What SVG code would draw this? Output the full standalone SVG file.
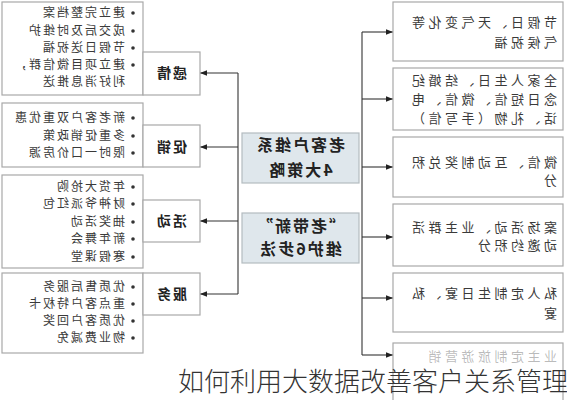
<svg xmlns="http://www.w3.org/2000/svg" width="567" height="400" viewBox="0 0 567 400">
<defs>
<marker id="ah" viewBox="0 0 10 10" refX="10" refY="5" markerWidth="7" markerHeight="7" markerUnits="userSpaceOnUse" orient="auto"><path d="M0,1 L10,5 L0,9 z" fill="#222"/></marker>
<style>
.box{fill:#fff;stroke:#a8a8a8;stroke-width:1.2}
.cbox{fill:#dfe7ec;stroke:#b4bcc0;stroke-width:1.2}
.ln{fill:none;stroke:#333;stroke-width:1.1}
.ar{fill:none;stroke:#333;stroke-width:1.1;marker-end:url(#ah)}
.bt{font-family:"Noto Sans CJK SC","Noto Sans",sans-serif;font-size:12px;letter-spacing:2px;fill:#3a3a3a}
.lb{font-family:"Noto Sans CJK SC","Noto Sans",sans-serif;font-size:14px;font-weight:bold;letter-spacing:2px;fill:#222;text-anchor:middle}
.ct{font-family:"Noto Sans CJK SC","Noto Sans",sans-serif;font-size:16px;font-weight:bold;letter-spacing:2px;fill:#222;text-anchor:middle}
.rt{font-family:"Noto Sans CJK SC","Noto Sans",sans-serif;font-size:13px;letter-spacing:3.5px;fill:#3a3a3a}
.dot{fill:#333}
.cap{font-family:"Noto Sans CJK SC","Noto Sans",sans-serif;font-size:26px;font-weight:300;fill:#333}
</style>
</defs>
<rect width="567" height="400" fill="#fff"/>
<g transform="matrix(-1 0 0 1 567 0)">
<g id="connectors">
<path class="ln" d="M329,73 V294"/>
<path class="ar" d="M329,73 H367"/>
<path class="ar" d="M329,147 H367"/>
<path class="ar" d="M329,221 H367"/>
<path class="ar" d="M329,294 H367"/>
<path class="ln" d="M205,32 V355"/>
<path class="ar" d="M205,32 H174"/>
<path class="ar" d="M205,99 H174"/>
<path class="ar" d="M205,167 H174"/>
<path class="ar" d="M205,237 H174"/>
<path class="ar" d="M205,298 H174"/>
<path class="ar" d="M205,355 H174"/>
</g>
<g id="center1"><rect class="cbox" x="208" y="133" width="117" height="50"/>
<text class="ct" x="267" y="151">老客户维系</text><text class="ct" x="267" y="176">4大策略</text></g>
<g id="center2"><rect class="cbox" x="208" y="213" width="117" height="50"/>
<text class="ct" x="267" y="232">“老带新”</text><text class="ct" x="267" y="255">维护6步法</text></g>

<g id="list1"><rect class="box" x="424" y="2" width="141" height="93"/>
<circle class="dot" cx="434" cy="13" r="1.8"/><text class="bt" x="442" y="17">建立完整档案</text>
<circle class="dot" cx="434" cy="31" r="1.8"/><text class="bt" x="442" y="35">成交后及时维护</text>
<circle class="dot" cx="434" cy="48" r="1.8"/><text class="bt" x="442" y="52">节假日送祝福</text>
<circle class="dot" cx="434" cy="65" r="1.8"/><text class="bt" x="442" y="69">建立项目微信群，</text>
<text class="bt" x="442" y="86">利好消息推送</text></g>
<g id="label1"><rect class="box" x="367" y="52" width="57" height="43"/><text class="lb" x="396" y="78">感情</text></g>

<g id="list2"><rect class="box" x="424" y="103" width="141" height="64"/>
<circle class="dot" cx="434" cy="118" r="1.8"/><text class="bt" x="442" y="122">新老客户双重优惠</text>
<circle class="dot" cx="434" cy="136" r="1.8"/><text class="bt" x="442" y="140">多重促销政策</text>
<circle class="dot" cx="434" cy="153" r="1.8"/><text class="bt" x="442" y="157">限时一口价房源</text></g>
<g id="label2"><rect class="box" x="367" y="125" width="57" height="42"/><text class="lb" x="396" y="152">促销</text></g>

<g id="list3"><rect class="box" x="424" y="175" width="141" height="93"/>
<circle class="dot" cx="434" cy="187" r="1.8"/><text class="bt" x="442" y="191">年货大抢购</text>
<circle class="dot" cx="434" cy="204" r="1.8"/><text class="bt" x="442" y="208">财神爷派红包</text>
<circle class="dot" cx="434" cy="222" r="1.8"/><text class="bt" x="442" y="226">抽奖活动</text>
<circle class="dot" cx="434" cy="239" r="1.8"/><text class="bt" x="442" y="243">新年舞会</text>
<circle class="dot" cx="434" cy="257" r="1.8"/><text class="bt" x="442" y="261">寒假课堂</text></g>
<g id="label3"><rect class="box" x="367" y="200" width="57" height="42"/><text class="lb" x="396" y="226">活动</text></g>

<g id="list4"><rect class="box" x="424" y="273" width="141" height="80"/>
<circle class="dot" cx="434" cy="287" r="1.8"/><text class="bt" x="442" y="291">优质售后服务</text>
<circle class="dot" cx="434" cy="304" r="1.8"/><text class="bt" x="442" y="308">重点客户特权卡</text>
<circle class="dot" cx="434" cy="321" r="1.8"/><text class="bt" x="442" y="325">优质客户回奖</text>
<circle class="dot" cx="434" cy="338" r="1.8"/><text class="bt" x="442" y="342">物业费减免</text></g>
<g id="label4"><rect class="box" x="367" y="273" width="57" height="42"/><text class="lb" x="396" y="299">服务</text></g>

<g id="r1"><rect class="box" x="4" y="2" width="170" height="59"/>
<text class="rt" x="10" y="27">节假日、天气变化等</text><text class="rt" x="10" y="47">气候祝福</text></g>
<g id="r2"><rect class="box" x="4" y="68" width="170" height="62"/>
<text class="rt" x="10" y="85">全家人生日、结婚纪</text><text class="rt" x="10" y="104">念日短信、微信、电</text><text class="rt" x="10" y="123">话、礼物（手写信）</text></g>
<g id="r3"><rect class="box" x="4" y="137" width="170" height="60"/>
<text class="rt" x="10" y="167">微信、互动制奖兑积</text><text class="rt" x="10" y="185">分</text></g>
<g id="r4"><rect class="box" x="4" y="204" width="170" height="62"/>
<text class="rt" x="10" y="232">案场活动、业主群活</text><text class="rt" x="10" y="250">动邀约积分</text></g>
<g id="r5"><rect class="box" x="4" y="273" width="170" height="59"/>
<text class="rt" x="10" y="298">私人定制生日宴、私</text><text class="rt" x="10" y="318">宴</text></g>
<g id="r6"><rect class="box" x="4" y="343" width="170" height="62"/>
<text class="rt" x="10" y="361" font-size="12" fill-opacity="0.35">业主定制旅游营销</text></g>
</g>
<text class="cap" x="178" y="391">如何利用大数据改善客户关系管理</text>
</svg>
